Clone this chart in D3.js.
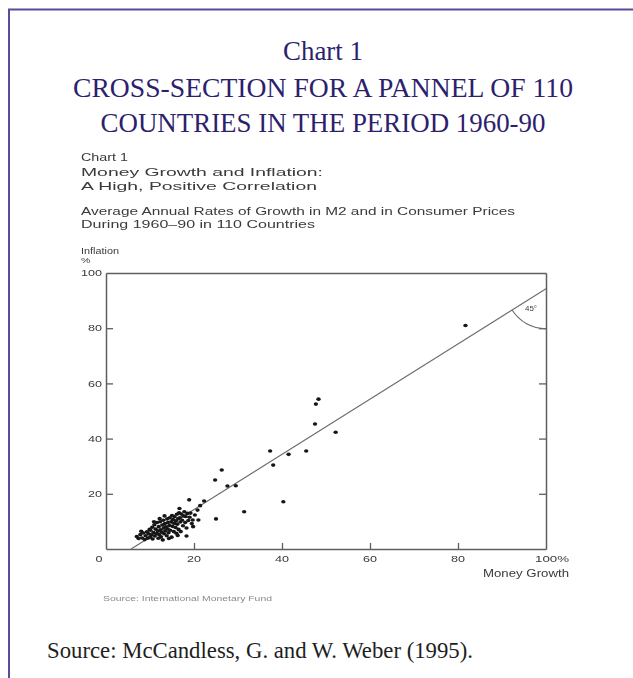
<!DOCTYPE html>
<html>
<head>
<meta charset="utf-8">
<script src="https://cdn.jsdelivr.net/npm/d3@7"></script>
<style>
  html, body { margin: 0; padding: 0; background: #fff; }
  svg { display: block; }
</style>
</head>
<body>
<svg id="chart" width="633" height="678"></svg>
<script>
// Average annual M2 growth (%) for 110 countries, 1960-90
const moneyGrowth = [
  81.7, 48.3, 47.7, 47.5, 52.2, 37.3, 38.0, 41.5, 45.5, 40.3,
  26.3, 24.8, 27.6, 29.5, 31.4, 25.0, 18.9, 22.3, 21.4, 20.8,
  16.7, 20.2, 21.0, 19.7, 19.8, 18.3,
  7.0, 7.4, 7.8, 8.2, 8.5, 8.8, 9.0, 9.3, 9.5, 9.7,
  10.0, 10.1, 10.3, 10.5, 10.6, 10.8, 11.0, 11.1, 11.3, 11.5, 11.6, 11.8, 11.9,
  12.0, 12.1, 12.3, 12.4, 12.5, 12.7, 12.8, 12.9, 13.0, 13.1, 13.2, 13.4, 13.5, 13.6, 13.8, 13.9,
  14.0, 14.1, 14.2, 14.4, 14.5, 14.6, 14.8, 14.9, 15.0, 15.1, 15.2, 15.4, 15.5, 15.6, 15.8, 15.9,
  16.0, 16.1, 16.2, 16.4, 16.5, 16.6, 16.8, 16.9, 17.0, 17.1, 17.3, 17.5, 17.6,
  17.8, 18.0, 18.1, 18.3, 18.5, 18.7, 19.0, 19.2, 19.5,
  8.0, 9.9, 12.2, 13.3, 14.3, 10.9, 16.3
];
// Average annual consumer price inflation (%) for the same countries
const inflation = [
  81.0, 54.3, 52.5, 45.3, 42.3, 35.5, 30.4, 34.3, 35.5, 17.1,
  28.6, 25.0, 22.8, 22.9, 13.5, 10.9, 17.8, 17.4, 15.7, 14.1,
  14.7, 12.3, 10.5, 10.5, 8.1, 4.7,
  4.5, 3.8, 5.2, 4.0, 5.8, 3.4, 4.8, 6.2, 3.9, 5.5,
  4.3, 6.8, 5.1, 7.9, 3.6, 6.0, 8.8, 4.7, 7.2, 5.6, 9.6, 6.5, 3.9,
  8.1, 5.2, 9.9, 7.0, 4.4, 6.1, 8.7, 3.3, 10.4, 7.6, 5.5, 9.2, 6.6, 8.0, 4.8, 10.9,
  7.3, 9.6, 5.9, 8.5, 11.3, 6.8, 9.9, 4.3, 12.1, 8.2, 10.7, 6.3, 9.3, 11.7, 7.8, 10.2,
  5.7, 12.6, 9.0, 11.0, 7.1, 13.1, 11.3, 9.8, 6.3, 12.7, 10.4, 8.4, 12.0,
  13.5, 9.6, 11.8, 7.6, 12.9, 10.3, 11.5, 13.0, 9.2,
  6.4, 7.1, 11.0, 12.0, 3.8, 9.9, 4.9
];
// Reference line through the cloud (money growth, inflation)
const fitMoney = [5.7, 100];
const fitInflation = [0, 94.3];

const axisDomain = [0, 100];
const xTicks = [20, 40, 60, 80];
const yTicks = [20, 40, 60, 80];
const xTickLabels = ["0", "20", "40", "60", "80", "100%"];
const xTickLabelValues = [0, 20, 40, 60, 80, 100];
const yTickLabels = ["100", "80", "60", "40", "20"];
const yTickLabelValues = [100, 80, 60, 40, 20];

const headingLines = ["Chart 1", "CROSS-SECTION FOR A PANNEL OF 110", "COUNTRIES IN THE PERIOD 1960-90"];
const innerLabel = "Chart 1";
const innerTitle = ["Money Growth and Inflation:", "A High, Positive Correlation"];
const innerSubtitle = ["Average Annual Rates of Growth in M2 and in Consumer Prices", "During 1960\u201390 in 110 Countries"];
const yAxisTitle = ["Inflation", "%"];
const xAxisTitle = "Money Growth";
const angleLabel = "45\u00b0";
const innerSource = "Source: International Monetary Fund";
const pageSource = "Source: McCandless, G. and W. Weber (1995).";

const svg = d3.select("#chart");
const SERIF = "'Liberation Serif', 'Times New Roman', serif";
const SANS = "'Liberation Sans', Arial, Helvetica, sans-serif";
const INK = "#3a3a3a";

// Page frame (right and bottom edges run off the page)
svg.append("rect")
  .attr("x", 9).attr("y", 9.5)
  .attr("width", 700).attr("height", 720)
  .attr("fill", "none")
  .attr("stroke", "#5b4b9c")
  .attr("stroke-width", 2);

// Place a text with a horizontally stretched run of given width
function stretched(g, str, o) {
  const t = g.append("text")
    .attr("y", o.y)
    .attr("font-family", o.family || SANS)
    .attr("font-size", o.size)
    .attr("fill", o.fill || INK)
    .text(str);
  const natural = t.node().getComputedTextLength();
  const w = o.width != null ? o.width : natural * (o.stretch || 1);
  const anchor = o.anchor || "start";
  const x0 = anchor === "end" ? o.x - w : anchor === "middle" ? o.x - w / 2 : o.x;
  t.attr("x", x0).attr("textLength", w).attr("lengthAdjust", "spacingAndGlyphs");
  return t;
}

// Page heading
const heading = svg.append("g");
const headingBase = [60, 97, 132];
const headingWidth = [80, 500, 445];
headingLines.forEach((s, i) => {
  stretched(heading, s, {
    x: 323, y: headingBase[i], size: 27, family: SERIF,
    fill: "#2e1f6e", anchor: "middle", width: headingWidth[i]
  });
});

// Reproduced figure (softened like a scanned print)
const defs = svg.append("defs");
defs.append("filter").attr("id", "soft")
  .attr("x", "-5%").attr("y", "-5%").attr("width", "110%").attr("height", "110%")
  .append("feGaussianBlur").attr("stdDeviation", 0.35);

const fig = svg.append("g").attr("filter", "url(#soft)");

stretched(fig, innerLabel, { x: 81, y: 161, size: 11, width: 47 });
stretched(fig, innerTitle[0], { x: 81, y: 176, size: 11.5, width: 242 });
stretched(fig, innerTitle[1], { x: 81, y: 190, size: 11.5, width: 236 });
stretched(fig, innerSubtitle[0], { x: 81, y: 215, size: 10.5, width: 434 });
stretched(fig, innerSubtitle[1], { x: 81, y: 228, size: 10.5, width: 234 });
stretched(fig, yAxisTitle[0], { x: 81, y: 254, size: 9, width: 38 });
stretched(fig, yAxisTitle[1], { x: 81, y: 263, size: 8, stretch: 1.3 });

const x = d3.scaleLinear().domain(axisDomain).range([106, 546]);
const y = d3.scaleLinear().domain(axisDomain).range([549, 273]);

const AXIS = "#5e5e5e";
function styleAxis(g) {
  g.selectAll("path.domain").attr("stroke", AXIS).attr("stroke-width", 1.5);
  g.selectAll(".tick line").attr("stroke", AXIS).attr("stroke-width", 1.3);
  g.selectAll(".tick text").remove();
}

fig.append("g").attr("transform", `translate(0,${y(0)})`)
  .call(d3.axisBottom(x).tickValues(xTicks).tickSize(-6).tickSizeOuter(0))
  .call(styleAxis);
fig.append("g").attr("transform", `translate(0,${y(100)})`)
  .call(d3.axisTop(x).tickValues([]).tickSizeOuter(0))
  .call(styleAxis);
fig.append("g").attr("transform", `translate(${x(0)},0)`)
  .call(d3.axisLeft(y).tickValues(yTicks).tickSize(-7).tickSizeOuter(0))
  .call(styleAxis);
fig.append("g").attr("transform", `translate(${x(100)},0)`)
  .call(d3.axisRight(y).tickValues(yTicks).tickSize(-7).tickSizeOuter(0))
  .call(styleAxis);

// Tick labels
yTickLabels.forEach((s, i) => {
  const v = yTickLabelValues[i];
  stretched(fig, s, { x: 102, y: v === 100 ? y(v) + 2.5 : y(v) + 3.2, size: 9, anchor: "end", stretch: 1.4 });
});
xTickLabels.forEach((s, i) => {
  const v = xTickLabelValues[i];
  if (v === 0) {
    stretched(fig, s, { x: 99, y: 562, size: 9, anchor: "middle", stretch: 1.4 });
  } else if (v === 100) {
    stretched(fig, s, { x: x(v) - 11, y: 562, size: 9, width: 34 });
  } else {
    stretched(fig, s, { x: x(v), y: 562, size: 9, anchor: "middle", stretch: 1.4 });
  }
});
stretched(fig, xAxisTitle, { x: 569, y: 577, size: 10, anchor: "end", width: 86 });

// Reference line
const fit = fitMoney.map((m, i) => [m, fitInflation[i]]);
fig.append("path")
  .attr("d", d3.line().x(d => x(d[0])).y(d => y(d[1]))(fit))
  .attr("fill", "none")
  .attr("stroke", "#6a6a6a")
  .attr("stroke-width", 1.1);

// Angle marker where the line meets the right axis
const cx = x(fitMoney[1]), cy = y(fitInflation[1]);
const dx = x(fitMoney[0]) - cx, dy = y(fitInflation[0]) - cy;
const lineAngle = Math.PI + Math.atan2(-dx, dy);
fig.append("path")
  .attr("transform", `translate(${cx},${cy})`)
  .attr("d", d3.arc()({ innerRadius: 40, outerRadius: 40, startAngle: Math.PI, endAngle: lineAngle }))
  .attr("fill", "none")
  .attr("stroke", "#6a6a6a")
  .attr("stroke-width", 1.1);
stretched(fig, angleLabel, { x: 525, y: 311, size: 8, width: 12 });

// Country points
fig.append("g")
  .selectAll("ellipse")
  .data(moneyGrowth.map((m, i) => [m, inflation[i]]))
  .join("ellipse")
  .attr("cx", d => x(d[0]))
  .attr("cy", d => y(d[1]))
  .attr("rx", 2.2)
  .attr("ry", 1.8)
  .attr("fill", "#161616");

stretched(fig, innerSource, { x: 103, y: 601, size: 7, width: 169, fill: "#8a8a8a" });

// Page source note
stretched(svg, pageSource, { x: 47, y: 658, size: 22.5, family: SERIF, fill: "#1e1e1e", width: 426 });
</script>
</body>
</html>
